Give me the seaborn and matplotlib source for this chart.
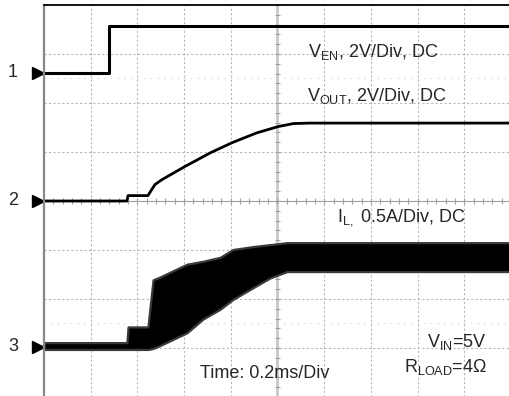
import numpy as np
import pandas as pd
import seaborn as sns
import matplotlib.pyplot as plt

# scope settings
T_DIV = 0.2                      # ms / div
CH_OFFSET = {'1': 2.62, '2': 0.0, '3': -2.97}   # ground markers, in divisions
CH_SCALE = {'1': 2.0, '2': 2.0, '3': 0.5}        # V/div, V/div, A/div

# channel 1: V_EN (V)
ven_t = [0.0, 0.28, 0.28, 2.0]
ven_v = [0.0, 0.0, 1.9, 1.9]

# channel 2: V_OUT (V)
vout_t = [0.0, 0.355, 0.36, 0.445, 0.475, 0.505, 0.604, 0.711, 0.808, 0.911, 1.004, 1.068, 1.139, 2.0]
vout_v = [0.0, 0.0, 0.22, 0.22, 0.67, 0.87, 1.41, 1.96, 2.39, 2.78, 3.04, 3.16, 3.18, 3.18]

# channel 3: I_L ripple envelope (A)
il_t = [0.0, 0.355, 0.36, 0.445, 0.467, 0.497, 0.612, 0.681, 0.754, 0.809, 0.895, 0.968, 1.041, 2.0]
il_hi = [0.04, 0.04, 0.20, 0.20, 0.68, 0.71, 0.84, 0.87, 0.91, 0.99, 1.02, 1.04, 1.06, 1.06]
il_lo = [-0.03, -0.03, -0.03, -0.03, -0.02, 0.01, 0.14, 0.28, 0.38, 0.48, 0.60, 0.70, 0.765, 0.765]


def to_div(vals, ch):
    return CH_OFFSET[ch] + np.asarray(vals) / CH_SCALE[ch]


sns.set_style("white")
plt.rcParams['font.family'] = ['Liberation Sans', 'DejaVu Sans']
plt.rcParams['mathtext.fontset'] = 'custom'
plt.rcParams['mathtext.rm'] = 'Liberation Sans'

fig = plt.figure(figsize=(5.1, 3.96), dpi=100)
ax = fig.add_axes([44 / 510, -0.0025, 467 / 510, 392 / 396])
ax.set_xlim(0, 10 * T_DIV)
ax.set_ylim(-4, 4)

# graticule
grid_kw = dict(color='#b8b8b8', lw=0.8, ls=(0, (2, 2)), zorder=0)
for k in range(1, 10):
    if k != 5:
        ax.axvline(k * T_DIV, **grid_kw)
for k in range(-3, 4):
    if k != 0:
        ax.axhline(k, **grid_kw)
for k in (-2.5, 2.5):
    ax.axhline(k, color='#c8c8c8', lw=0.8, ls=(0, (1, 5)), zorder=0)
ax.axvline(5 * T_DIV, color='#c8c8c8', lw=2.0, zorder=0)
ax.axhline(0, color='#a0a0a0', lw=0.8, zorder=0)
minor_x = np.arange(0, 10.01, 0.2) * T_DIV
minor_y = np.arange(-4, 4.01, 0.2)
ax.vlines(minor_x, -0.06, 0.06, color='#a0a0a0', lw=0.8, zorder=0)
ax.hlines(minor_y, 5 * T_DIV - 0.012, 5 * T_DIV + 0.012, color='#a0a0a0', lw=0.8, zorder=0)

# traces
ven = pd.DataFrame({'t': ven_t, 'y': to_div(ven_v, '1')})
vout = pd.DataFrame({'t': vout_t, 'y': to_div(vout_v, '2')})
sns.lineplot(data=ven, x='t', y='y', ax=ax, color='black', lw=2.2, sort=False, estimator=None)
sns.lineplot(data=vout, x='t', y='y', ax=ax, color='black', lw=2.0, sort=False, estimator=None)
ax.fill_between(il_t, to_div(il_lo, '3'), to_div(il_hi, '3'), facecolor='black',
                edgecolor='#3a3a3a', lw=1.6)

# frame
for s in ['right', 'bottom']:
    ax.spines[s].set_visible(False)
ax.spines['left'].set_color('#888888')
ax.spines['left'].set_linewidth(1.6)
ax.spines['top'].set_color('black')
ax.spines['top'].set_linewidth(1.3)
ax.set_xticks([])
ax.set_yticks([])
ax.set_xlabel('')
ax.set_ylabel('')

# channel markers
for ch, off in CH_OFFSET.items():
    ax.plot([-0.026], [off], marker='>', ms=8, color='black', clip_on=False)
    ax.text(-0.133, off, ch, fontsize=13, ha='center', va='center', clip_on=False)

# annotations
ax.text(1.13, 2.94, r'V$_{\mathrm{EN}}$, 2V/Div, DC', fontsize=13, ha='left', va='baseline')
ax.text(1.125, 2.05, r'V$_{\mathrm{OUT}}$, 2V/Div, DC', fontsize=13, ha='left', va='baseline')
ax.text(1.255, -0.42, r'I$_{\mathrm{L,}}$ 0.5A/Div, DC', fontsize=13, ha='left', va='baseline')
ax.text(1.897, -2.98, r'V$_{\mathrm{IN}}$=5V', fontsize=13, ha='right', va='baseline')
ax.text(1.897, -3.49, r'R$_{\mathrm{LOAD}}$=4Ω', fontsize=13, ha='right', va='baseline')
ax.text(0.668, -3.61, 'Time: 0.2ms/Div', fontsize=13, ha='left', va='baseline')

plt.savefig('out.png', dpi=100)
